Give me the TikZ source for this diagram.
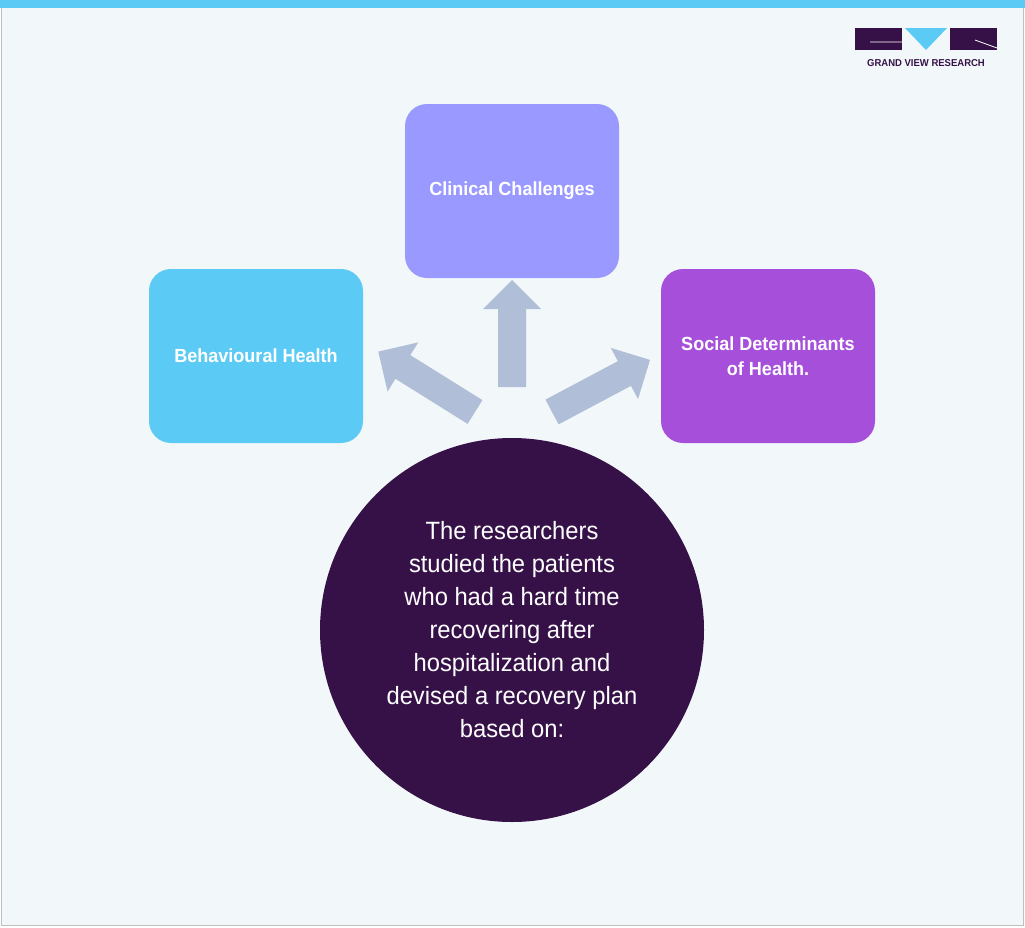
\documentclass[tikz,border=0pt]{standalone}
\usepackage{fontspec}
\setmainfont{Liberation Sans}[FakeStretch=0.95]
\definecolor{bg}{HTML}{F2F8FA}
\definecolor{cyanb}{HTML}{5BCBF5}
\definecolor{lav}{HTML}{9999FF}
\definecolor{purp}{HTML}{A64FDB}
\definecolor{dark}{HTML}{361148}
\definecolor{arr}{HTML}{B0BED8}
\newcommand{\fatarrow}[4]{% x,y,angle,length
 \begin{scope}[shift={(#1,#2)},rotate=#3]
 \fill[arr] (0,-14) -- (#4-29,-14) -- (#4-29,-29) -- (#4,0) -- (#4-29,29) -- (#4-29,14) -- (0,14) -- cycle;
 \end{scope}}
\begin{document}
\begin{tikzpicture}[x=1pt,y=-1pt,
 box/.style={rounded corners=22pt,minimum width=214pt,minimum height=174pt,text=white,font=\bfseries\fontsize{19}{25}\selectfont,align=center,inner sep=0pt}]
\useasboundingbox (0,0) rectangle (1025,927);
\fill[bg,draw=gray!50] (1,1) rectangle (1023,925);
\fill[cyanb] (0,0) rectangle (1025,8);
% logo
\fill[dark] (855,28) rectangle (902,50);
\fill[cyanb] (905,28) -- (947,28) -- (926,50) -- cycle;
\fill[dark] (950,28) rectangle (997,50);
\draw[white,line width=0.8pt] (870,42)--(902,42) (975,40)--(997,48);
\node[font=\bfseries\fontsize{10}{12}\selectfont,text=dark] (logo) at (926,63) {GRAND VIEW RESEARCH};
\node[box,fill=lav] (cc) at (512,191) {Clinical Challenges};
\node[box,fill=cyanb] (bh) at (256,356) {Behavioural Health};
\node[box,fill=purp] (sd) at (768,356) {Social Determinants\\of Health.};
\node[circle,fill=dark,minimum size=384pt,text=white,align=center,font=\fontsize{25}{33}\selectfont] (c) at (512,630) {The researchers\\studied the patients\\who had a hard time\\recovering after\\hospitalization and\\devised a recovery plan\\based on:};
\fatarrow{512}{387}{90}{107}
\fatarrow{475}{412}{148}{114}
\fatarrow{552}{412}{28}{111}
\end{tikzpicture}
\end{document}
